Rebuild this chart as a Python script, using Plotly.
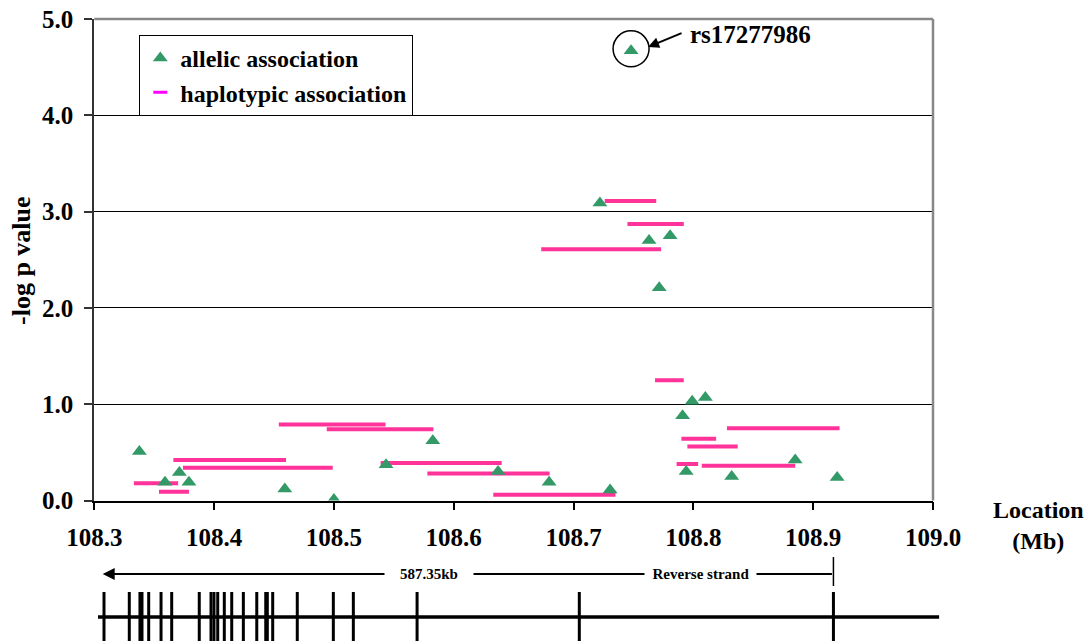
import plotly.graph_objects as go

# ---------------- data ----------------
allelic_pos = [108.3376, 108.359, 108.371, 108.379, 108.459, 108.500, 108.5435, 108.5825,
               108.637, 108.6796, 108.7305, 108.722, 108.748, 108.763, 108.7806, 108.7715,
               108.791, 108.799, 108.810, 108.794, 108.832, 108.885, 108.920]
allelic_logp = [0.51, 0.19, 0.29, 0.19, 0.12, 0.01, 0.37, 0.62,
                0.30, 0.19, 0.11, 3.09, 4.67, 2.70, 2.75, 2.21,
                0.88, 1.03, 1.07, 0.30, 0.25, 0.42, 0.24]

hap_start = [108.333, 108.354, 108.366, 108.374, 108.454, 108.494, 108.539, 108.578, 108.633,
             108.673, 108.726, 108.745, 108.768, 108.828, 108.790, 108.795, 108.786, 108.807]
hap_end = [108.370, 108.379, 108.460, 108.499, 108.543, 108.583, 108.640, 108.680, 108.735,
           108.773, 108.769, 108.792, 108.792, 108.922, 108.819, 108.837, 108.804, 108.885]
hap_logp = [0.18, 0.09, 0.42, 0.34, 0.79, 0.74, 0.39, 0.28, 0.06,
            2.61, 3.11, 2.87, 1.25, 0.75, 0.64, 0.56, 0.38, 0.36]

x_ticks = [108.3, 108.4, 108.5, 108.6, 108.7, 108.8, 108.9, 109.0]
y_ticks = [0, 1, 2, 3, 4, 5]

highlight_snp = "rs17277986"
highlight_idx = 12

# gene structure (Mb)
gene_markers = [108.3081, 108.3292, 108.3381, 108.3398, 108.3454, 108.3557, 108.3646,
                108.3876, 108.3974, 108.3999, 108.4030, 108.4085, 108.4147, 108.4244,
                108.4356, 108.4431, 108.4444, 108.4489, 108.4694, 108.4995, 108.5162,
                108.5694, 108.7048, 108.9169]
gene_span = [108.3031, 109.0051]
strand_end = 108.9169
strand_tip = 108.3070
gene_len_label = "587.35kb"
strand_label = "Reverse strand"

# ---------------- layout geometry ----------------
W, H = 1089, 641
PX0, PX1 = 94.3, 933.0          # plot x pixels
PY0, PY1 = 19.0, 500.5          # plot y pixels (top, bottom)
ppm = (PX1 - PX0) / (x_ticks[-1] - x_ticks[0])   # pixels per Mb
ppu = (PY1 - PY0) / (y_ticks[-1] - y_ticks[0])   # pixels per -log p unit

FONT = "Liberation Serif, Times New Roman, serif"
GREEN = "#339966"
PINK = "#FF3399"
MAG = "#FF00FF"

def fx(px):
    return px / W

def fy(py):
    return 1 - py / H

def bold(size):
    return dict(family=FONT, size=size, color="black", weight="bold")

fig = go.Figure()

# haplotype bars
hx, hy = [], []
for s, e, v in zip(hap_start, hap_end, hap_logp):
    hx += [s, e, None]
    hy += [v, v, None]
fig.add_trace(go.Scatter(x=hx, y=hy, mode="lines", line=dict(color=PINK, width=4),
                         showlegend=False, hoverinfo="skip", xaxis="x", yaxis="y"))

# allelic triangles
fig.add_trace(go.Scatter(x=allelic_pos, y=allelic_logp, mode="markers",
                         marker=dict(symbol="triangle-up", size=13, color=GREEN),
                         name="allelic association", legendgroup="a", xaxis="x", yaxis="y"))
# legend entry for haplotypes
fig.add_trace(go.Scatter(x=[None], y=[None], mode="markers",
                         marker=dict(symbol="line-ew", size=10, color=MAG,
                                     line=dict(color=MAG, width=3)),
                         name="haplotypic association", legendgroup="b", xaxis="x", yaxis="y"))

# gene diagram (second axis with same scale)
GY_LINE, GY_TICK_TOP, GY_ARROW, GY_BAR0, GY_BAR1 = 24, 49, 67, 55, 84
gx, gy = [], []
for g in gene_markers:
    gx += [g, g, None]
    gy += [0, GY_TICK_TOP, None]
fig.add_trace(go.Scatter(x=gene_span, y=[GY_LINE, GY_LINE], mode="lines",
                         line=dict(color="black", width=3.5), showlegend=False,
                         hoverinfo="skip", xaxis="x2", yaxis="y2"))
fig.add_trace(go.Scatter(x=gx, y=gy, mode="lines", line=dict(color="black", width=3),
                         showlegend=False, hoverinfo="skip", xaxis="x2", yaxis="y2"))
fig.add_trace(go.Scatter(x=[strand_end, strand_end], y=[GY_BAR0, GY_BAR1], mode="lines",
                         line=dict(color="black", width=1.5), showlegend=False,
                         hoverinfo="skip", xaxis="x2", yaxis="y2"))

x2_range = [x_ticks[0] - PX0 / ppm, x_ticks[0] + (W - PX0) / ppm]

tickfont = bold(25)

fig.update_layout(
    width=W, height=H,
    margin=dict(l=0, r=0, t=0, b=0),
    paper_bgcolor="white", plot_bgcolor="white",
    showlegend=True,
    legend=dict(x=fx(139.3), y=fy(35), xanchor="left", yanchor="top",
                bordercolor="black", borderwidth=1, bgcolor="white",
                font=bold(24), tracegroupgap=0, traceorder="normal",
                itemwidth=30),
    xaxis=dict(domain=[fx(PX0), fx(PX1)], range=[x_ticks[0], x_ticks[-1]],
               tickvals=x_ticks, ticktext=[f"{v:.1f}" for v in x_ticks],
               ticks="outside", ticklen=8, tickwidth=1.5, tickcolor="black",
               showline=True, linecolor="black", linewidth=1.5,
               showgrid=False, zeroline=False, tickfont=tickfont,
               ticklabelstandoff=6, anchor="y", automargin=False),
    yaxis=dict(domain=[fy(PY1), fy(PY0)], range=[y_ticks[0], y_ticks[-1]],
               tickvals=y_ticks, ticktext=[f"{v:.1f}" for v in y_ticks],
               ticks="outside", ticklen=8, tickwidth=1.5, tickcolor="#333333",
               showline=True, linecolor="#333333", linewidth=2,
               showgrid=True, gridcolor="black", gridwidth=1.2, zeroline=False,
               tickfont=tickfont, ticklabelstandoff=6, anchor="x", automargin=False),
    xaxis2=dict(domain=[0, 1], range=x2_range, visible=False, anchor="y2"),
    yaxis2=dict(domain=[0, fy(545)], range=[0, 96], visible=False, anchor="x2"),
)

# gray top and right border
fig.add_shape(type="line", xref="paper", yref="paper", x0=fx(PX0), x1=fx(PX1),
              y0=fy(PY0), y1=fy(PY0), line=dict(color="#888888", width=2.5))
fig.add_shape(type="line", xref="paper", yref="paper", x0=fx(PX1), x1=fx(PX1),
              y0=fy(PY1), y1=fy(PY0), line=dict(color="#888888", width=2.5))

# highlight circle around top SNP
hx0, hy0 = allelic_pos[highlight_idx], allelic_logp[highlight_idx]
r_px = 18
dx, dy = r_px / ppm, r_px / ppu
fig.add_shape(type="circle", xref="x", yref="y", x0=hx0 - dx, x1=hx0 + dx,
              y0=hy0 - dy + 0.02, y1=hy0 + dy + 0.02, line=dict(color="black", width=1.5))

annots = []
# arrow to SNP
annots.append(dict(x=hx0 + 17 / ppm, y=hy0 + 0.04, ax=hx0 + 52 / ppm, ay=hy0 + 0.19,
                   xref="x", yref="y", axref="x", ayref="y", text="", showarrow=True,
                   arrowhead=2, arrowsize=1.1, arrowwidth=2, arrowcolor="black", standoff=0))
annots.append(dict(x=hx0 + 57 / ppm, y=hy0 + 0.17, xref="x", yref="y", xanchor="left",
                   yanchor="middle", text=highlight_snp, showarrow=False, font=bold(25)))
# axis titles
annots.append(dict(x=fx(21), y=fy(261), xref="paper", yref="paper", text="-log p value",
                   textangle=-90, xanchor="center", yanchor="middle", showarrow=False,
                   font=bold(26)))
annots.append(dict(x=fx(1038), y=fy(525), xref="paper", yref="paper",
                   xanchor="center", yanchor="middle",
                   text="Location<br>(Mb)", showarrow=False, font=bold(24)))
# strand arrow
annots.append(dict(x=strand_tip, y=GY_ARROW, ax=strand_end, ay=GY_ARROW, xref="x2", yref="y2",
                   axref="x2", ayref="y2", text="", showarrow=True, arrowhead=2,
                   arrowsize=1.2, arrowwidth=2, arrowcolor="black", standoff=0))
nb = "&nbsp;"
annots.append(dict(x=108.579, y=GY_ARROW, xref="x2", yref="y2",
                   text=nb * 4 + gene_len_label + nb * 4, showarrow=False, bgcolor="white",
                   borderpad=0, font=bold(15)))
annots.append(dict(x=108.8056, y=GY_ARROW, xref="x2", yref="y2",
                   text=nb * 2 + strand_label + nb * 2, showarrow=False, bgcolor="white",
                   borderpad=0, font=bold(15)))
fig.update_layout(annotations=annots)

fig.write_html("out.html", config={"displayModeBar": False},
               post_script="document.body.style.margin='0';")
